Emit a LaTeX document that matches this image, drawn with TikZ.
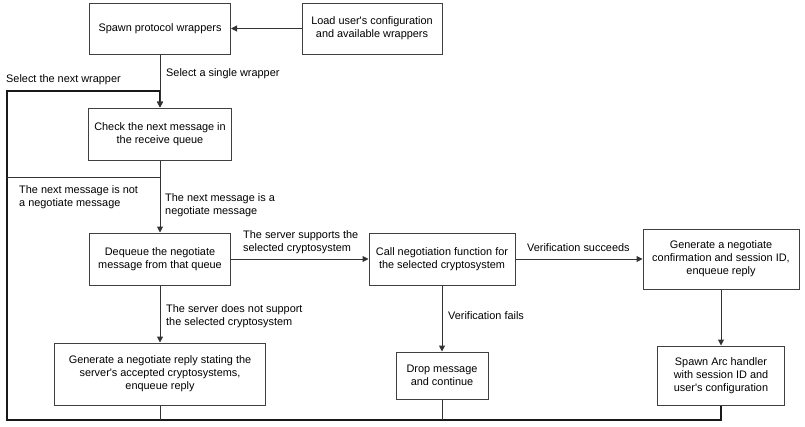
\documentclass[tikz,border=0pt]{standalone}
\usepackage{fontspec}
\setmainfont{Liberation Sans}
\usetikzlibrary{arrows.meta}

\begin{document}
\begin{tikzpicture}[x=1pt,y=-1pt,
    box/.style={draw=black!75, line width=1pt, fill=white, align=center, inner sep=0pt,
        font=\fontsize{10.9}{13}\selectfont},
    lbl/.style={anchor=west, align=left, inner sep=0pt, font=\fontsize{10.9}{13}\selectfont},
    link/.style={draw=black!80, line width=1pt},
    arr/.style={link, -{Triangle[length=6pt,width=6pt]}},
    back/.style={draw=black!90, line width=2pt}]
    \useasboundingbox (0,0) rectangle (805,426);

    \node[box, minimum width=141, minimum height=51] (spawn) at (160,28.5) {Spawn protocol wrappers};
    \node[box, minimum width=140, minimum height=51] (load) at (372,28.5) {Load user\textquotesingle s configuration\\and available wrappers};
    \node[box, minimum width=143, minimum height=52] (check) at (160,134) {Check the next message in\\the receive queue};
    \node[box, minimum width=141, minimum height=52] (deq) at (160,259) {Dequeue the negotiate\\message from that queue};
    \node[box, minimum width=211, minimum height=62] (reply) at (160,374) {Generate a negotiate reply stating the\\server\textquotesingle s accepted cryptosystems,\\enqueue reply};
    \node[box, minimum width=146, minimum height=52] (call) at (442,259) {Call negotiation function for\\the selected cryptosystem};
    \node[box, minimum width=156, minimum height=60] (confirm) at (721,259) {Generate a negotiate\\confirmation and session ID,\\enqueue reply};
    \node[box, minimum width=92, minimum height=47] (drop) at (442,375.5) {Drop message\\and continue};
    \node[box, minimum width=127, minimum height=59] (arc) at (721,375.5) {Spawn Arc handler\\with session ID and\\user\textquotesingle s configuration};

    \coordinate (cornerbl) at (7,420);
    \coordinate (cornertl) at (7,91);
    \coordinate (notneg) at (7,177);

    % loop back to the next wrapper
    \draw[back, -{Triangle[length=6pt,width=6pt]}] (arc.south) |- (cornerbl) -- (cornertl) -| (check.north);
    \draw[link] (reply.south) -- (reply.south |- cornerbl);
    \draw[link] (drop.south) -- (drop.south |- cornerbl);
    \draw[link] (check.south) |- (notneg);

    \draw[arr] (load) -- (spawn);
    \draw[arr] (spawn) -- (check);
    \draw[arr] (check) -- (deq);
    \draw[arr] (deq) -- (reply);
    \draw[arr] (deq) -- (call);
    \draw[arr] (call) -- (confirm);
    \draw[arr] (call) -- (drop);
    \draw[arr] (confirm) -- (arc);

    \node[lbl] (l1) at (6,80) {Select the next wrapper};
    \node[lbl] (l2) at (166,74) {Select a single wrapper};
    \node[lbl] (l3) at (19,197.5) {The next message is not\\a negotiate message};
    \node[lbl] (l4) at (165,205.5) {The next message is a\\negotiate message};
    \node[lbl] (l5) at (243,242) {The server supports the\\selected cryptosystem};
    \node[lbl] (l6) at (527,248) {Verification succeeds};
    \node[lbl] (l7) at (448,316) {Verification fails};
    \node[lbl] (l8) at (166,316) {The server does not support\\the selected cryptosystem};
\end{tikzpicture}
\end{document}
